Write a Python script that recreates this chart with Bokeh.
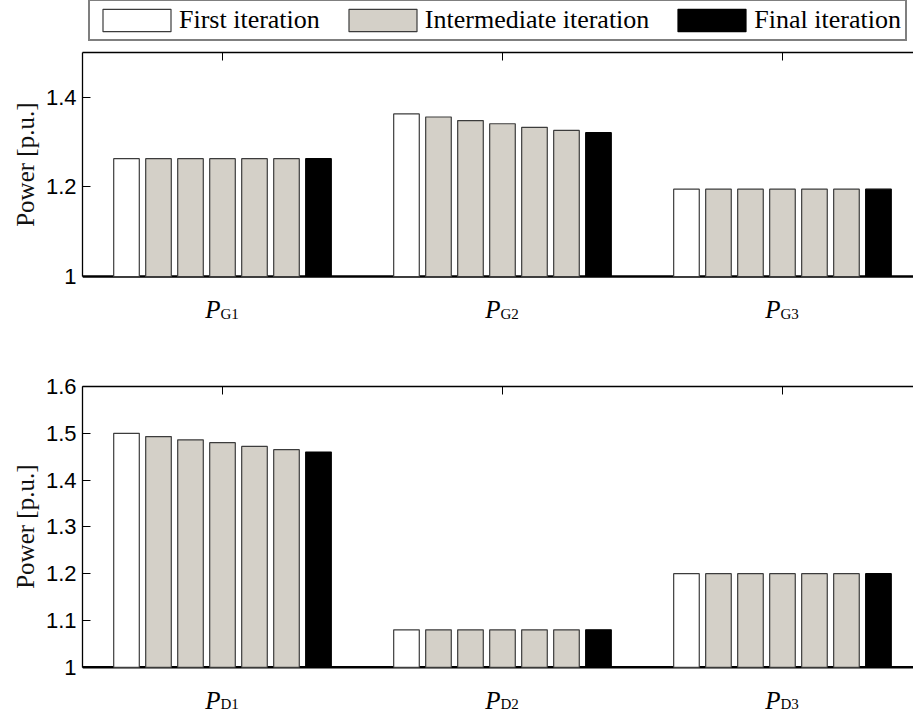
from bokeh.plotting import figure
from bokeh.models import (ColumnDataSource, Range1d, FixedTicker, LinearAxis,
                          Legend, LegendItem, Span, Title)
from bokeh.layouts import column
from bokeh.core.properties import value
from bokeh.embed import file_html
from bokeh.resources import INLINE

# ---------------- data ----------------
iteration_names = ["First iteration", "Intermediate iteration", "Final iteration"]
label_symbol = "P"
gen_subscripts = ["G1", "G2", "G3"]
dem_subscripts = ["D1", "D2", "D3"]

# 7 iterations per quantity (first, 5 intermediate, final)
pg1 = [1.263, 1.263, 1.263, 1.263, 1.263, 1.263, 1.263]
pg2 = [1.363, 1.356, 1.348, 1.341, 1.333, 1.326, 1.321]
pg3 = [1.195, 1.195, 1.195, 1.195, 1.195, 1.195, 1.195]
pd1 = [1.500, 1.493, 1.486, 1.480, 1.472, 1.465, 1.460]
pd2 = [1.080, 1.080, 1.080, 1.080, 1.080, 1.080, 1.080]
pd3 = [1.200, 1.200, 1.200, 1.200, 1.200, 1.200, 1.200]

base_value = 1
gen_ticks = [1, 1.2, 1.4]
gen_tick_labels = ["1", "1.2", "1.4"]
dem_ticks = [1, 1.1, 1.2, 1.3, 1.4, 1.5, 1.6]
dem_tick_labels = ["1", "1.1", "1.2", "1.3", "1.4", "1.5", "1.6"]

y_label = "Power [p.u.]"

# ---------------- style ----------------
FILL_FIRST = "#ffffff"
FILL_MID = "#d4d0c8"
FILL_FINAL = "#000000"
EDGE = "#3c3c3c"
SERIF = "Liberation Serif"
SANS = "Liberation Sans"
COLORS = [(FILL_FIRST, EDGE), (FILL_MID, EDGE), (FILL_FINAL, "#000000")]


def make_panel(series, subscripts, ticks, tick_labels, y_lo, y_end, height,
               border_top, border_bottom, title_offset):
    p = figure(width=913, height=height, output_backend="svg",
               toolbar_location=None, x_range=Range1d(0.5, 3.468),
               y_range=Range1d(y_lo, y_end), min_border_left=82,
               min_border_right=0, min_border_top=border_top,
               min_border_bottom=border_bottom, x_axis_location=None,
               y_axis_location=None)
    p.outline_line_color = None
    p.xgrid.visible = False
    p.ygrid.visible = False

    n = len(series[0])
    group = 0.8
    pitch = group / n
    bw = 0.8 * pitch

    # thick baseline under the bars
    p.add_layout(Span(location=base_value, dimension="width",
                      line_color="black", line_width=2.6, level="underlay"))

    groups = [([], []), ([], []), ([], [])]
    for i, vals in enumerate(series):
        for j, v in enumerate(vals):
            x = (i + 1) + (j - (n - 1) / 2) * pitch
            k = 0 if j == 0 else (2 if j == n - 1 else 1)
            groups[k][0].append(x)
            groups[k][1].append(v)

    for k, (fill, edge) in enumerate(COLORS):
        src = ColumnDataSource(dict(x=groups[k][0], top=groups[k][1]))
        p.vbar(x="x", top="top", bottom=base_value, width=bw, source=src,
               fill_color=fill, line_color=edge, line_width=1.2)

    # left axis, drawn only over the data range
    yax = LinearAxis(ticker=FixedTicker(ticks=ticks), bounds=(base_value, y_end),
                     major_label_overrides={t: l for t, l in zip(ticks, tick_labels)})
    yax.axis_line_width = 1.3
    yax.axis_line_color = "black"
    yax.major_tick_in = 8
    yax.major_tick_out = 0
    yax.major_tick_line_width = 1
    yax.minor_tick_line_color = None
    yax.major_label_text_font = SANS
    yax.major_label_text_font_size = "22px"
    yax.major_label_text_color = "black"
    yax.major_label_standoff = 6
    p.add_layout(yax, "left")

    # axis title, centred on the data part of the axis
    p.add_layout(Title(text=y_label, align="right", offset=title_offset,
                       text_font=SERIF, text_font_size="25px",
                       text_font_style="normal", text_color="#111111",
                       standoff=8), "left")

    # top box edge with inward ticks at the categories
    tax = LinearAxis(ticker=FixedTicker(ticks=[1, 2, 3]))
    tax.axis_line_width = 1.3
    tax.axis_line_color = "black"
    tax.major_tick_in = 8
    tax.major_tick_out = 0
    tax.minor_tick_line_color = None
    tax.major_label_text_color = None
    tax.major_label_standoff = 0
    p.add_layout(tax, "above")

    # category labels  P_{sub}
    cats = [i + 1 for i in range(len(subscripts))]
    p.text(x=cats, y=[base_value] * len(cats), text=[label_symbol] * len(cats),
           text_font=value(SERIF), text_font_style="italic",
           text_font_size="25px", text_align="right",
           text_baseline="alphabetic", y_offset=33, x_offset=-2,
           text_color="black")
    p.text(x=cats, y=[base_value] * len(cats), text=subscripts,
           text_font=value(SERIF), text_font_size="15px", text_align="left",
           text_baseline="alphabetic", y_offset=37, x_offset=-2,
           text_color="black")
    return p


# legend strip
lg = figure(width=913, height=45, output_backend="svg", toolbar_location=None,
            x_range=Range1d(0, 1), y_range=Range1d(0, 1), min_border=0,
            x_axis_location=None, y_axis_location=None)
lg.outline_line_color = None
lg.xgrid.visible = False
lg.ygrid.visible = False
legend_rends = []
for k, (fill, edge) in enumerate(COLORS):
    r = lg.vbar(x=[1], top=[pg1[0]], bottom=base_value, width=0.1,
                fill_color=fill, line_color=edge, line_width=1.2)
    r.visible = False
    legend_rends.append(r)
legend = Legend(items=[LegendItem(label=nm, renderers=[r])
                       for nm, r in zip(iteration_names, legend_rends)],
                orientation="horizontal", location=(6, 4))
legend.glyph_width = 85
legend.glyph_height = 28
legend.label_standoff = 0
legend.spacing = 20
legend.padding = 4
legend.margin = 0
legend.border_line_color = "black"
legend.border_line_width = 2
legend.label_text_font = SERIF
legend.label_text_font_size = "26px"
legend.label_text_color = "black"
legend.click_policy = "none"
lg.add_layout(legend, "center")

p1 = make_panel([pg1, pg2, pg3], gen_subscripts, gen_ticks, gen_tick_labels,
                0.8795, 1.5, 285, 7, 0, 50)
p2 = make_panel([pd1, pd2, pd3], dem_subscripts, dem_ticks, dem_tick_labels,
                0.9097, 1.6, 383, 56, 4, 78)

layout = column(lg, p1, p2, spacing=0)
open("out.html", "w").write(file_html(layout, INLINE))
